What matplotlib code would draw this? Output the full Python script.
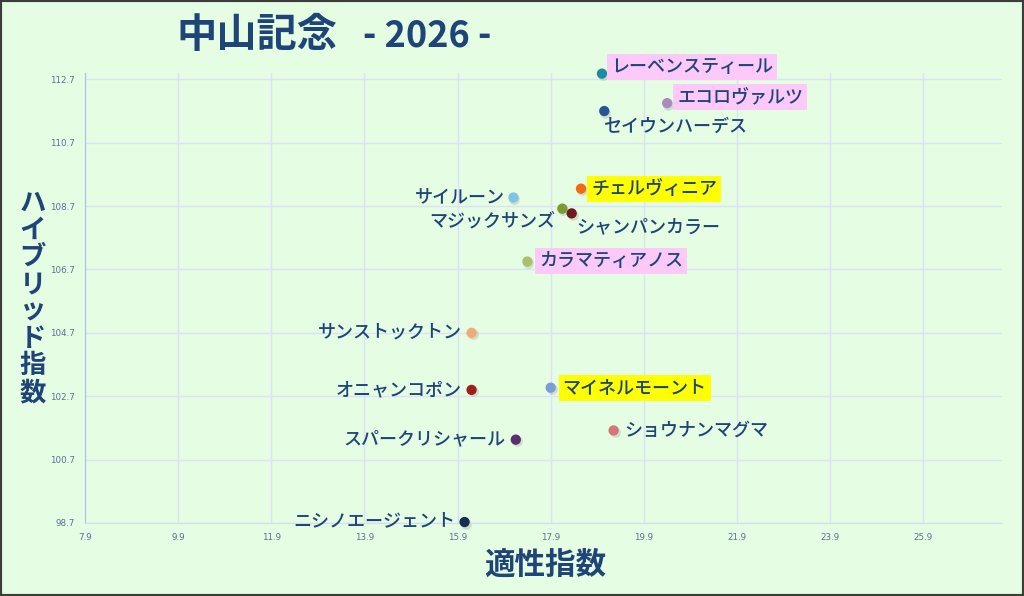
import matplotlib
matplotlib.use("Agg")
import matplotlib.pyplot as plt
from matplotlib.patches import Rectangle
from matplotlib import transforms

plt.rcParams['font.family'] = ['Noto Sans CJK JP', 'DejaVu Sans']

# ---- data ----
horses = ["レーベンスティール", "エコロヴァルツ", "セイウンハーデス", "チェルヴィニア",
          "サイルーン", "マジックサンズ", "シャンパンカラー", "カラマティアノス",
          "サンストックトン", "オニャンコポン", "スパークリシャール", "マイネルモーント",
          "ショウナンマグマ", "ニシノエージェント"]
aptitude = [19.0, 20.4, 19.05, 18.55, 17.1, 18.15, 18.35, 17.4,
            16.2, 16.2, 17.15, 17.9, 19.25, 16.05]
hybrid = [112.88, 111.95, 111.7, 109.25, 108.97, 108.62, 108.47, 106.95,
          104.7, 102.9, 101.33, 102.97, 101.62, 98.73]
highlight = ["pink", "pink", None, "yellow", None, None, None, "pink",
             None, None, None, "yellow", None, None]
xticks = [7.9, 9.9, 11.9, 13.9, 15.9, 17.9, 19.9, 21.9, 23.9, 25.9]
yticks = [98.7, 100.7, 102.7, 104.7, 106.7, 108.7, 110.7, 112.7]
title_race = "中山記念"
title_year = "- 2026 -"
xlabel = "適性指数"
ylabel = "ハイブリッド指数"

# ---- style ----
colors = ["#1e8c9e", "#a88cc0", "#2a5595", "#f06a12", "#80c4e4", "#7a9a34",
          "#6e1a1e", "#a8c070", "#f4aa78", "#a01e1e", "#5a2e72", "#7c9cd4",
          "#d4767a", "#18304e"]
# (dx, dy in pixels, ha)
placement = [(9, 7, 'left'), (10, 6, 'left'), (0, -16, 'left'), (10, 0, 'left'),
             (-9, 0, 'right'), (-7, -14, 'right'), (5, -14, 'left'), (12, 1, 'left'),
             (-10, 0, 'right'), (-10, 0, 'right'), (-10, 0, 'right'), (12, 0, 'left'),
             (11, 0, 'left'), (-9, 1, 'right')]
bgcol = {"pink": "#fdc9f9", "yellow": "#ffff00"}
navy = "#1f4477"
bg = "#e5fde2"

fig = plt.figure(figsize=(10.24, 5.96), dpi=100, facecolor=bg)
ax = fig.add_axes([0.083, 0.1225, 0.896, 0.755])
ax.set_facecolor(bg)
ax.set_xlim(7.9, 27.6)
ax.set_ylim(98.7, 112.9)
ax.set_xticks(xticks)
ax.set_xticklabels([f"{v:.1f}" for v in xticks])
ax.set_yticks(yticks)
ax.set_yticklabels([f"{v:.1f}" for v in yticks])
ax.tick_params(length=0, labelsize=6.3, labelcolor="#5a7096", pad=7)
for lab in ax.get_xticklabels() + ax.get_yticklabels():
    lab.set_family(['DejaVu Sans'])
ax.grid(True, color="#d9e2f6", linewidth=1.0)
ax.set_axisbelow(True)
for s in ['top', 'right']:
    ax.spines[s].set_visible(False)
ax.spines['left'].set_color("#a9c0f4")
ax.spines['bottom'].set_color("#d3ddf2")

# soft shadow under each dot
shadow_tr = ax.transData + transforms.ScaledTranslation(1/100, -1.5/100, fig.dpi_scale_trans)
ax.scatter(aptitude, hybrid, s=60, c="#888888", alpha=0.25, zorder=2, clip_on=False,
           linewidths=0, transform=shadow_tr)
ax.scatter(aptitude, hybrid, s=55, c=colors, zorder=3, clip_on=False, linewidths=0)

for name, x, y, hl, (dx, dy, ha) in zip(horses, aptitude, hybrid, highlight, placement):
    kw = {}
    if hl:
        kw['bbox'] = dict(boxstyle="square,pad=0.22", fc=bgcol[hl], ec='none')
    ax.annotate(name, (x, y), xytext=(dx, dy), textcoords='offset pixels',
                ha=ha, va='center', fontsize=13, fontweight='medium', color=navy,
                zorder=4, annotation_clip=False, **kw)

fig.text(0.251, 0.94, title_race, ha='center', va='center', fontsize=29,
         fontweight='bold', color=navy)
fig.text(0.417, 0.94, title_year, ha='center', va='center', fontsize=26,
         fontweight='bold', color=navy)
fig.text(0.532, 0.053, xlabel, ha='center', va='center', fontsize=22,
         fontweight='bold', color=navy)
fig.text(0.032, 0.5, "\n".join(ylabel), ha='center', va='center', fontsize=19,
         fontweight='bold', color=navy, linespacing=1.0)

fig.patches.append(Rectangle((0, 0), 1, 1, transform=fig.transFigure,
                             fill=False, ec="#3c3c3c", lw=3))

fig.savefig("out.png", dpi=100, facecolor=bg)
